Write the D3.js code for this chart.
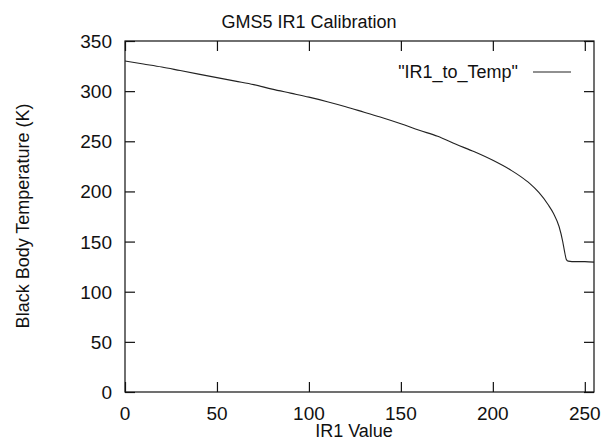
<!DOCTYPE html>
<html lang="en">
<head>
    <meta charset="UTF-8">
    <title>GMS5 IR1 Calibration</title>
    <script src="https://d3js.org/d3.v7.min.js"></script>
    <style>
        body { margin: 0; background: #fff; }
        text { font-family: "Liberation Sans", Arial, sans-serif; fill: #111; }
        .line { fill: none; stroke: #222; stroke-width: 1.1px; }
        .frame { fill: none; stroke: #111; stroke-width: 1.2px; }
        .tick line { stroke: #111; stroke-width: 1.2px; }
    </style>
</head>
<body>
<svg width="605" height="441"></svg>
<script>
    // data
    var irValues = [0, 10, 20, 30, 40, 50, 60, 70, 80, 90, 100, 110, 120, 130, 140, 150, 160, 170,
        180, 190, 200, 210, 215, 220, 225, 230, 233, 236, 238, 239, 240, 241, 245, 250, 255];
    var temps = [330, 327, 324, 320.5, 317, 313.5, 310, 306.5, 302, 298, 294, 289.5, 284.5, 279, 273.5,
        267.5, 261, 255, 247, 239.5, 231, 221, 215, 208, 199, 187, 178, 165, 150, 140, 132, 130.5, 130, 130, 129.5];
    var xTicks = [0, 50, 100, 150, 200, 250];
    var yTicks = [0, 50, 100, 150, 200, 250, 300, 350];

    var configuration = {
        "left": 125,
        "right": 594,
        "top": 41,
        "bottom": 392,
        "tick_len": 10,
        "tick_font": 19,
        "label_font": 18
    };

    var svg = d3.select("svg");

    var xScale = d3.scaleLinear().domain([0, 255]).range([configuration.left, configuration.right]);
    var yScale = d3.scaleLinear().domain([0, 350]).range([configuration.bottom, configuration.top]);

    //frame
    svg.append("rect")
        .attr("class", "frame")
        .attr("x", configuration.left)
        .attr("y", configuration.top)
        .attr("width", configuration.right - configuration.left)
        .attr("height", configuration.bottom - configuration.top);

    //ticks, mirrored on all four sides, pointing inward
    var tl = configuration.tick_len;
    function noDomain(g){ g.select(".domain").remove(); }
    svg.append("g").attr("transform", "translate(0," + configuration.bottom + ")")
        .call(d3.axisTop(xScale).tickValues(xTicks).tickSize(tl).tickFormat(""))
        .call(noDomain);
    svg.append("g").attr("transform", "translate(0," + configuration.top + ")")
        .call(d3.axisBottom(xScale).tickValues(xTicks).tickSize(tl).tickFormat(""))
        .call(noDomain);
    svg.append("g").attr("transform", "translate(" + configuration.left + ",0)")
        .call(d3.axisRight(yScale).tickValues(yTicks).tickSize(tl).tickFormat(""))
        .call(noDomain);
    svg.append("g").attr("transform", "translate(" + configuration.right + ",0)")
        .call(d3.axisLeft(yScale).tickValues(yTicks).tickSize(tl).tickFormat(""))
        .call(noDomain);

    //tick labels
    svg.selectAll("text.xl").data(xTicks).enter().append("text")
        .attr("x", function(d){ return xScale(d); })
        .attr("y", 420)
        .attr("text-anchor", "middle")
        .style("font-size", configuration.tick_font + "px")
        .text(function(d){ return d; });
    svg.selectAll("text.yl").data(yTicks).enter().append("text")
        .attr("x", 112)
        .attr("y", function(d){ return yScale(d) + 7; })
        .attr("text-anchor", "end")
        .style("font-size", configuration.tick_font + "px")
        .text(function(d){ return d; });

    //titles
    svg.append("text")
        .attr("x", 309).attr("y", 28)
        .attr("text-anchor", "middle")
        .style("font-size", configuration.label_font + "px")
        .text("GMS5 IR1 Calibration");
    svg.append("text")
        .attr("x", 354).attr("y", 437)
        .attr("text-anchor", "middle")
        .style("font-size", configuration.label_font + "px")
        .text("IR1 Value");
    svg.append("text")
        .attr("transform", "translate(29,216) rotate(-90)")
        .attr("text-anchor", "middle")
        .style("font-size", configuration.label_font + "px")
        .text("Black Body Temperature (K)");

    //legend
    svg.append("text")
        .attr("x", 518).attr("y", 78)
        .attr("text-anchor", "end")
        .style("font-size", configuration.label_font + "px")
        .text("\"IR1_to_Temp\"");
    svg.append("line")
        .attr("class", "line")
        .attr("x1", 533).attr("x2", 571)
        .attr("y1", 72).attr("y2", 72);

    //curve
    var data = irValues.map(function(v, i){ return {ir: v, temp: temps[i]}; });
    var lineShaper = d3.line()
        .x(function(d){ return xScale(d.ir); })
        .y(function(d){ return yScale(d.temp); })
        .curve(d3.curveMonotoneX);
    svg.append("path")
        .datum(data)
        .attr("class", "line")
        .attr("d", lineShaper);
</script>
</body>
</html>
